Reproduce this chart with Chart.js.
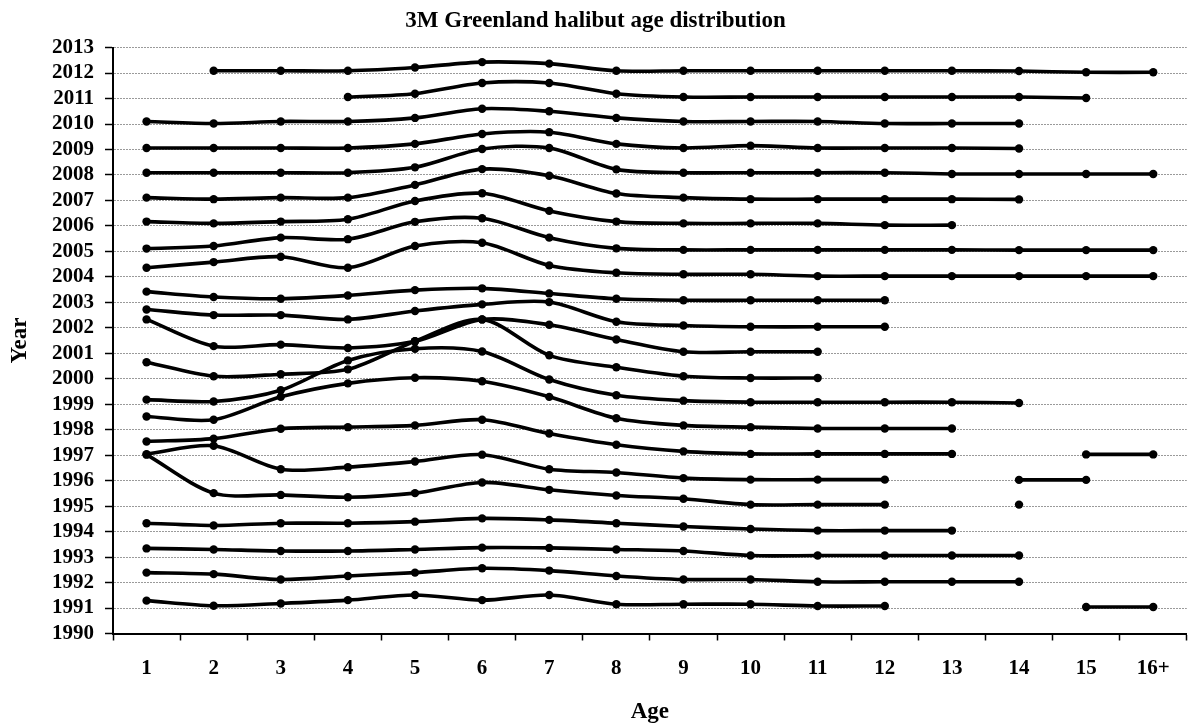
<!DOCTYPE html>
<html>
<head>
<meta charset="utf-8">
<script src="https://cdn.jsdelivr.net/npm/chart.js@4/dist/chart.umd.min.js"></script>
<style>
  html, body { margin: 0; padding: 0; background: #fff; }
  #wrap { width: 1191px; height: 727px; position: relative; }
</style>
</head>
<body>
<div id="wrap"><canvas id="ageChart"></canvas></div>
<script>
// ages on the x axis
const ages = ['1', '2', '3', '4', '5', '6', '7', '8', '9', '10', '11', '12', '13', '14', '15', '16+'];

// each year's line sits at year + share of that age
const yr1991 = [1991.29, 1991.09, 1991.18, 1991.31, 1991.51, 1991.31, 1991.51, 1991.15, 1991.15, 1991.15, 1991.08, 1991.08, null, null, 1991.04, 1991.04];
const yr1992 = [1992.39, 1992.33, 1992.12, 1992.26, 1992.39, 1992.56, 1992.47, 1992.26, 1992.12, 1992.12, 1992.03, 1992.03, 1992.03, 1992.03, null, null];
const yr1993 = [1993.34, 1993.30, 1993.24, 1993.24, 1993.30, 1993.37, 1993.36, 1993.30, 1993.24, 1993.06, 1993.06, 1993.06, 1993.06, 1993.06, null, null];
const yr1994 = [1994.33, 1994.24, 1994.33, 1994.33, 1994.39, 1994.52, 1994.46, 1994.33, 1994.20, 1994.10, 1994.04, 1994.04, 1994.04, null, null, null];
const yr1995 = [1997.02, 1995.51, 1995.44, 1995.35, 1995.51, 1995.93, 1995.64, 1995.42, 1995.29, 1995.06, 1995.06, 1995.06, null, 1995.06, null, null];
const yr1996 = [1997.04, 1997.37, 1996.45, 1996.53, 1996.75, 1997.02, 1996.45, 1996.32, 1996.10, 1996.04, 1996.04, 1996.04, null, 1996.03, 1996.03, null];
const yr1997 = [1997.54, 1997.65, 1998.04, 1998.10, 1998.17, 1998.39, 1997.85, 1997.41, 1997.15, 1997.05, 1997.05, 1997.05, 1997.05, null, 1997.03, 1997.03];
const yr1998 = [1998.52, 1998.39, 1999.29, 1999.82, 2000.04, 1999.90, 1999.29, 1998.45, 1998.17, 1998.10, 1998.05, 1998.05, 1998.05, null, null, null];
const yr1999 = [1999.18, 1999.11, 1999.55, 2000.72, 2001.18, 2001.07, 1999.97, 1999.35, 1999.14, 1999.08, 1999.08, 1999.08, 1999.08, 1999.05, null, null];
const yr2000 = [2000.65, 2000.10, 2000.18, 2000.37, 2001.47, 2002.33, 2000.92, 2000.45, 2000.10, 2000.03, 2000.03, null, null, null, null, null];
const yr2001 = [2002.33, 2001.28, 2001.34, 2001.21, 2001.47, 2002.33, 2002.12, 2001.54, 2001.06, 2001.06, 2001.06, null, null, null, null, null];
const yr2002 = [2002.72, 2002.50, 2002.50, 2002.33, 2002.66, 2002.92, 2003.01, 2002.24, 2002.09, 2002.04, 2002.04, 2002.04, null, null, null, null];
const yr2003 = [2003.42, 2003.21, 2003.14, 2003.27, 2003.48, 2003.55, 2003.35, 2003.14, 2003.08, 2003.08, 2003.08, 2003.08, null, null, null, null];
const yr2004 = [2004.36, 2004.58, 2004.79, 2004.36, 2005.21, 2005.34, 2004.45, 2004.16, 2004.10, 2004.10, 2004.03, 2004.03, 2004.03, 2004.03, 2004.03, 2004.03];
const yr2005 = [2005.11, 2005.21, 2005.54, 2005.48, 2006.16, 2006.30, 2005.54, 2005.12, 2005.06, 2005.06, 2005.06, 2005.06, 2005.06, 2005.05, 2005.05, 2005.05];
const yr2006 = [2006.17, 2006.10, 2006.17, 2006.26, 2006.98, 2007.28, 2006.59, 2006.17, 2006.10, 2006.10, 2006.10, 2006.03, 2006.03, null, null, null];
const yr2007 = [2007.11, 2007.05, 2007.11, 2007.11, 2007.61, 2008.23, 2007.97, 2007.27, 2007.11, 2007.05, 2007.05, 2007.05, 2007.05, 2007.04, null, null];
const yr2008 = [2008.09, 2008.09, 2008.09, 2008.09, 2008.30, 2009.02, 2009.06, 2008.22, 2008.09, 2008.09, 2008.09, 2008.09, 2008.04, 2008.04, 2008.04, 2008.04];
const yr2009 = [2009.06, 2009.06, 2009.06, 2009.06, 2009.22, 2009.61, 2009.68, 2009.22, 2009.06, 2009.15, 2009.06, 2009.06, 2009.06, 2009.04, null, null];
const yr2010 = [2010.10, 2010.02, 2010.10, 2010.10, 2010.24, 2010.60, 2010.50, 2010.24, 2010.10, 2010.10, 2010.10, 2010.02, 2010.02, 2010.02, null, null];
const yr2011 = [null, null, null, 2011.06, 2011.19, 2011.61, 2011.61, 2011.19, 2011.06, 2011.06, 2011.06, 2011.06, 2011.06, 2011.06, 2011.02, null];
const yr2012 = [null, 2012.09, 2012.09, 2012.09, 2012.22, 2012.43, 2012.37, 2012.09, 2012.09, 2012.09, 2012.09, 2012.09, 2012.09, 2012.08, 2012.03, 2012.03];

const yearLines = [yr1991, yr1992, yr1993, yr1994, yr1995, yr1996, yr1997, yr1998, yr1999, yr2000, yr2001,
    yr2002, yr2003, yr2004, yr2005, yr2006, yr2007, yr2008, yr2009, yr2010, yr2011, yr2012];
const yearNames = ['1991', '1992', '1993', '1994', '1995', '1996', '1997', '1998', '1999', '2000', '2001',
    '2002', '2003', '2004', '2005', '2006', '2007', '2008', '2009', '2010', '2011', '2012'];

const serif = '"Liberation Serif", "Times New Roman", serif';

document.addEventListener('DOMContentLoaded', function () {
    const ctx = document.getElementById('ageChart').getContext('2d');

    const datasets = yearLines.map((vals, i) => ({
        label: yearNames[i],
        data: vals,
        borderColor: '#000',
        borderWidth: 3.6,
        backgroundColor: '#000',
        pointBackgroundColor: '#000',
        pointBorderWidth: 0,
        pointRadius: 4.2,
        tension: 0.3,
        spanGaps: false,
        fill: false
    }));

    new Chart(ctx, {
        type: 'line',
        data: { labels: ages, datasets },
        options: {
            responsive: true,
            maintainAspectRatio: false,
            animation: false,
            layout: { padding: { left: 0, right: 0, top: 0, bottom: 0 } },
            plugins: {
                legend: { display: false },
                tooltip: { enabled: false },
                title: {
                    display: true,
                    text: '3M Greenland halibut age distribution',
                    color: '#000',
                    font: { family: serif, size: 23, weight: 'bold' },
                    padding: { top: 7, bottom: 13 }
                }
            },
            scales: {
                x: {
                    type: 'category',
                    offset: true,
                    grid: {
                        offset: true,
                        drawOnChartArea: false,
                        drawTicks: true,
                        tickLength: 7,
                        tickColor: '#000',
                        tickWidth: 1.5
                    },
                    border: { color: '#000', width: 2 },
                    ticks: {
                        color: '#000',
                        padding: 15,
                        maxRotation: 0,
                        font: { family: serif, size: 21, weight: 'bold' }
                    },
                    title: {
                        display: true,
                        text: 'Age',
                        color: '#000',
                        font: { family: serif, size: 23, weight: 'bold' },
                        padding: { top: 0, bottom: 1 }
                    },
                    afterFit: function (scale) { scale.height = 93.5; }
                },
                y: {
                    min: 1990,
                    max: 2013,
                    ticks: {
                        stepSize: 1,
                        autoSkip: false,
                        color: '#000',
                        padding: 11,
                        font: { family: serif, size: 21, weight: 'bold' },
                        callback: v => String(v)
                    },
                    grid: {
                        color: '#9a9a9a',
                        lineWidth: 1,
                        tickLength: 8,
                        tickColor: '#000',
                        tickWidth: 1.5
                    },
                    border: { color: '#000', width: 2, dash: [2, 1] },
                    title: {
                        display: true,
                        text: 'Year',
                        color: '#000',
                        font: { family: serif, size: 23, weight: 'bold' },
                        padding: { top: 6, bottom: 0 }
                    },
                    afterFit: function (scale) { scale.width = 113; }
                }
            }
        }
    });
});
</script>
</body>
</html>
